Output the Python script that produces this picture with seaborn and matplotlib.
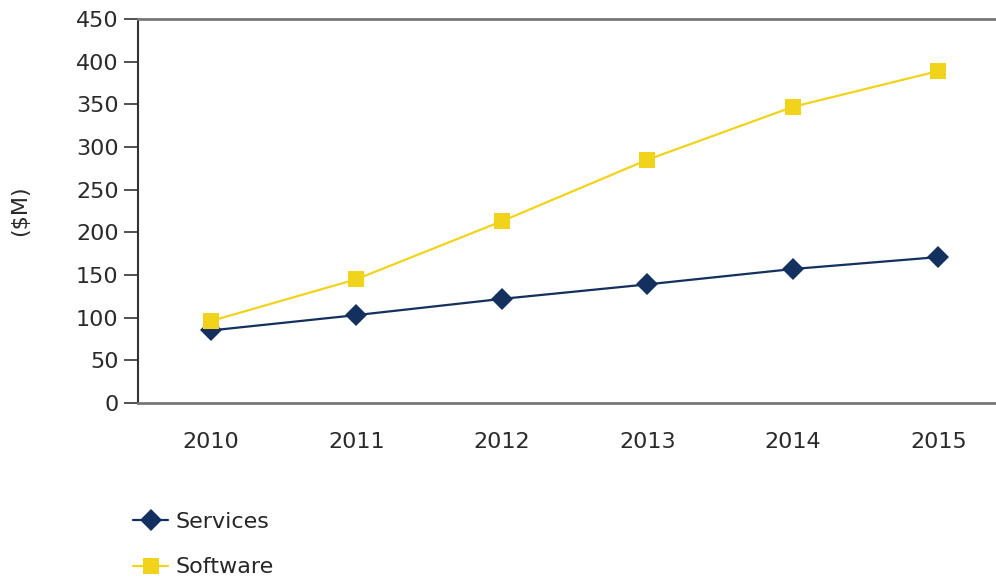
import matplotlib
matplotlib.use("Agg")
import matplotlib.pyplot as plt
import seaborn as sns
import pandas as pd
import numpy as np

years = ["2010", "2011", "2012", "2013", "2014", "2015"]
services = [85, 103, 122, 139, 157, 171]
software = [96, 145, 213, 285, 347, 389]
yticks = [0, 50, 100, 150, 200, 250, 300, 350, 400, 450]

sns.set_style("white")
plt.rcParams['font.family'] = ['DejaVu Sans']

df = pd.DataFrame({
    "Year": years * 2,
    "Value": services + software,
    "Series": ["Services"] * len(years) + ["Software"] * len(years),
})

fig = plt.figure(figsize=(9.96, 5.8), dpi=100)
ax = fig.add_axes([138/996, 1 - 403/580, 873/996, 384/580])

palette = {"Services": "#13305e", "Software": "#f2d31c"}
sns.lineplot(data=df, x="Year", y="Value", hue="Series", style="Series",
             markers={"Services": "D", "Software": "s"}, dashes=False,
             palette=palette, markersize=11, linewidth=1.6,
             markeredgewidth=0, ax=ax, legend=True, sort=False)

txt = "#2a2a2a"
fs = 16
ax.set_xlim(-0.5, 5.5)
ax.set_ylim(0, 450)
ax.set_yticks(yticks)
ax.set_yticklabels([str(v) for v in yticks], fontsize=fs, color=txt)
ax.set_xticks(range(len(years)))
ax.set_xticklabels(years, fontsize=fs, color=txt)
ax.tick_params(axis="x", which="major", length=0, pad=21)
ax.set_xticks(np.arange(-0.5, 5.6, 1.0), minor=True)
ax.tick_params(axis="x", which="minor", length=5, width=1.5, direction="out", color="#333333")
ax.tick_params(axis="y", which="major", length=10, width=1.2, direction="out", color="#333333", pad=4, left=True)
ax.set_xlabel("")
ax.set_ylabel("($M)", fontsize=fs, color=txt, labelpad=33)

for side in ["top", "bottom"]:
    ax.spines[side].set_color("#777777")
    ax.spines[side].set_linewidth(2)
ax.spines["left"].set_color("#333333")
ax.spines["left"].set_linewidth(1.5)
ax.spines["right"].set_visible(False)

handles, labels = ax.get_legend_handles_labels()
ax.get_legend().remove()
fig.legend(handles, labels, loc="upper left", bbox_to_anchor=(124/996, 1 - 503/580),
           frameon=False, fontsize=fs, handlelength=1.6, handletextpad=0.3,
           labelspacing=1.15, borderaxespad=0)

fig.savefig("out.png", dpi=100)
